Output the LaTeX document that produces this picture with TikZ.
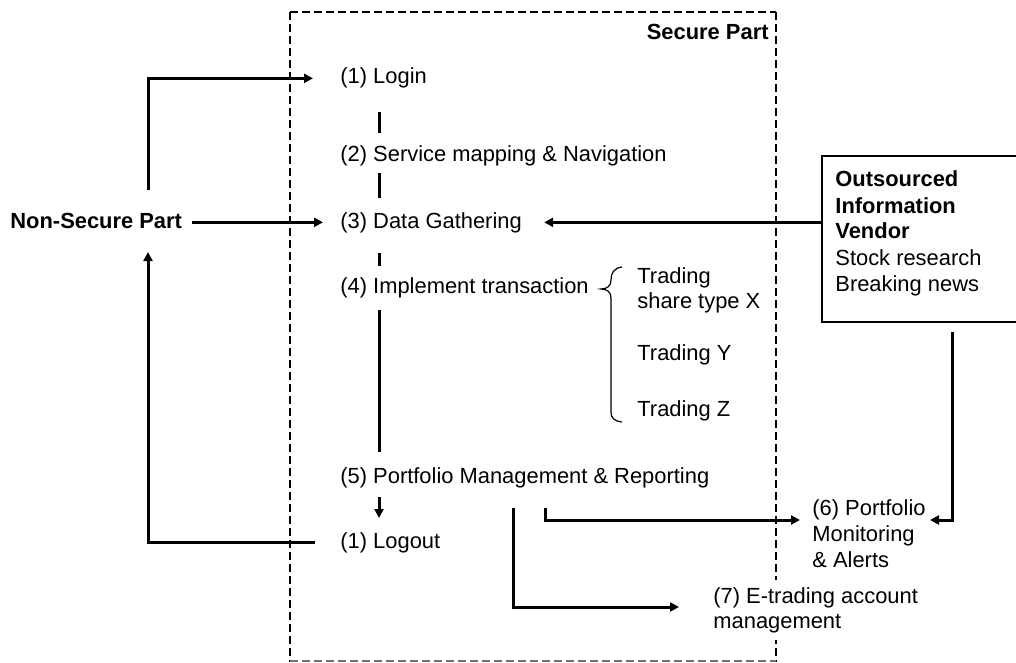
\documentclass[tikz,border=0pt]{standalone}
\usepackage{fontspec}
\setmainfont{Liberation Sans}
\usetikzlibrary{arrows.meta}
\begin{document}
\begin{tikzpicture}[x=0.5pt,y=-0.5pt,
  txt/.style={anchor=base west,inner sep=0pt,align=left,
    font=\fontsize{10.95pt}{13pt}\selectfont},
  boldtxt/.style={txt,font=\fontsize{10.95pt}{13pt}\selectfont\bfseries},
  conn/.style={line width=1.5pt,line cap=butt,line join=miter},
  arr/.style={conn,-{Triangle[length=4.5pt,width=4.5pt]}},
  flowdash/.style={line width=1.5pt},
  border/.style={dash pattern=on 4pt off 2pt}]
\useasboundingbox (0,0) rectangle (1016,663);

% secure region
\draw[border,line width=1.1pt] (290,12) -- (290,662);
\draw[border,line width=0.8pt] (290,12) -- (776,12);
\draw[border,line width=0.6pt] (776,12) -- (776,662);
\draw[border,line width=0.7pt,draw=black!55] (290,661) -- (776,661);
\node[boldtxt,anchor=base east] (secure) at (769,40) {Secure Part};

% main flow
\node[txt] (login)  at (340,84)  {(1) Login};
\node[txt] (svc)    at (340,162) {(2) Service mapping \& Navigation};
\node[txt] (data)   at (340,228) {(3) Data Gathering};
\node[txt] (impl)   at (340,293) {(4) Implement transaction};
\node[txt] (port)   at (340,483) {(5) Portfolio Management \& Reporting};
\node[txt] (logout) at (340,548) {(1) Logout};

\draw[flowdash] (379,112) -- (379,133);
\draw[flowdash] (379,173) -- (379,198);
\draw[flowdash] (379,253) -- (379,266);
\draw[flowdash] (379,310) -- (379,452);
\coordinate (portOut) at (379,497);
\coordinate (logoutIn) at (379,518);
\draw[arr] (portOut) -- (logoutIn);

% trading branches (multi-line nodes sit on their last baseline)
\draw[line width=0.6pt] (622,267) .. controls (614,268) and (611,273) .. (611,280)
  .. controls (611,286) and (607,289) .. (601,289)
  .. controls (607,289) and (611,292) .. (611,298) -- (611,412)
  .. controls (611,418) and (614,421) .. (622,422);
\node[txt,font=\fontsize{10.95pt}{12.5pt}\selectfont] (tx) at (637,308) {Trading\\share type X};
\node[txt] (ty) at (637,360) {Trading Y};
\node[txt] (tz) at (637,416) {Trading Z};

% non-secure side
\node[boldtxt] (nonsec) at (10,228) {Non-Secure Part};
\coordinate (nsTop) at (148,190);
\coordinate (nsBot) at (148,252);
\coordinate (nsR) at ([xshift=5pt]nonsec.east);
\draw[arr] (nsTop) |- ([xshift=-13.5pt]login.west);
\draw[arr] (nsR |- data.west) -- ([xshift=-8.5pt]data.west);
\draw[arr] ([xshift=-12.5pt]logout.west) -| (nsBot);

% outsourced vendor
\node[draw,line width=0.9pt,anchor=north west,minimum width=99pt,
  minimum height=83pt,inner sep=0pt] (vendor) at (821,155) {};
\node[txt,font=\fontsize{10.95pt}{13pt}\selectfont] (vtext) at (835,291)
  {\textbf{Outsourced}\\\textbf{Information}\\\textbf{Vendor}\\Stock research\\Breaking news};
\draw[arr] (vendor.west |- data.east) -- ([xshift=11pt]data.east);

% monitoring and account management
\node[txt] (mon) at (812,567) {(6) Portfolio\\Monitoring\\\& Alerts};
\node[txt,font=\fontsize{10.95pt}{12.5pt}\selectfont,fill=white,
  inner xsep=2pt,inner ysep=3.5pt] (acct) at (709,628)
  {(7) E-trading account\\management};
\coordinate (venOut) at (952,332);
\coordinate (monR) at (930,520);
\draw[arr] (venOut) |- (monR);
\coordinate (portA) at (545,508);
\coordinate (monL) at (800,520);
\draw[arr] (portA) |- (monL);
\coordinate (portB) at (513,508);
\coordinate (acctL) at (679,607);
\draw[arr] (portB) |- (acctL);
\end{tikzpicture}
\end{document}
